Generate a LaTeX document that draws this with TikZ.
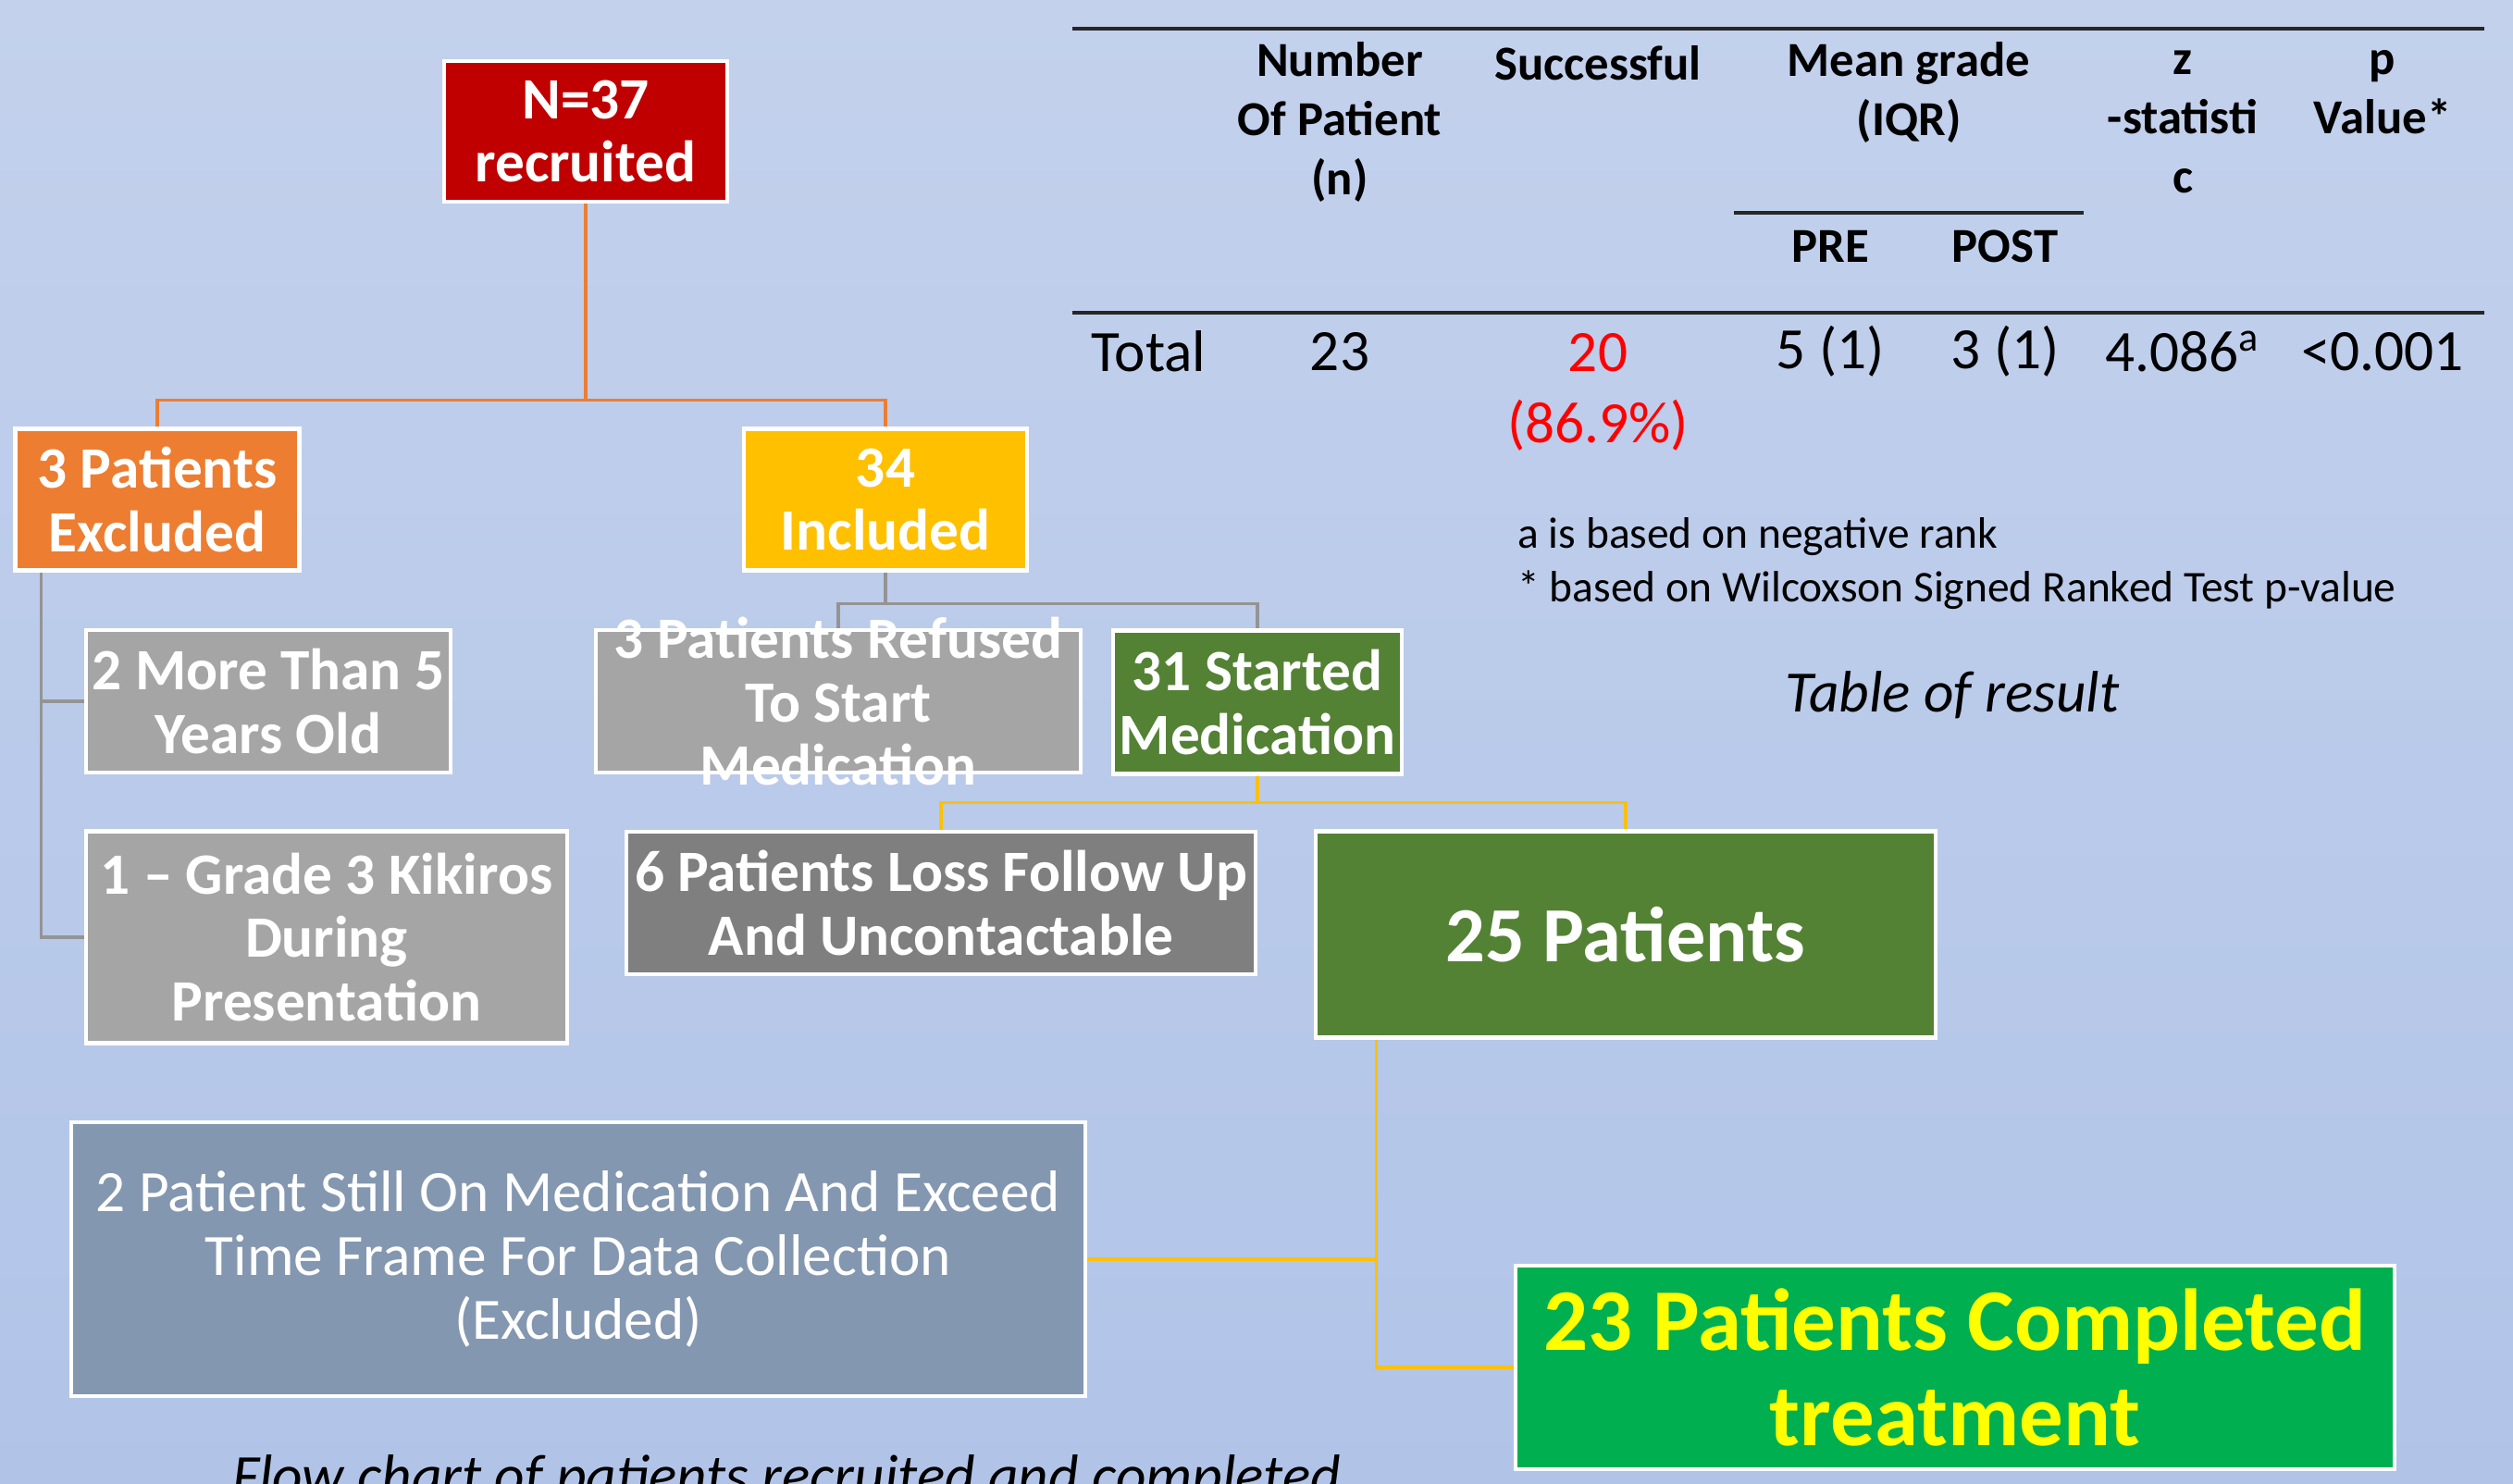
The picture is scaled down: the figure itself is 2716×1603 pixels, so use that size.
\documentclass[tikz,border=0pt]{standalone}
\usepackage{fontspec}
\setmainfont{Carlito}
\usetikzlibrary{positioning,calc}
\definecolor{bgtop}{RGB}{195,209,236}
\definecolor{bgbot}{RGB}{177,196,232}
\definecolor{recred}{RGB}{192,0,0}
\definecolor{excorange}{RGB}{237,125,49}
\definecolor{incyellow}{RGB}{255,192,0}
\definecolor{boxgrey}{RGB}{165,165,165}
\definecolor{darkgrey}{RGB}{127,127,127}
\definecolor{medgreen}{RGB}{84,130,53}
\definecolor{slateblue}{RGB}{132,151,176}
\definecolor{donegreen}{RGB}{0,176,80}
\definecolor{doneyellow}{RGB}{255,255,0}
\definecolor{pvalred}{RGB}{255,0,0}
\tikzstyle{flow box}=[
        draw = white,
        line width = 1.2pt,
        inner sep = 2pt,
        align = center,
        text = white,
        font = \bfseries\fontsize{18}{19.6}\selectfont
    ]
\tikzstyle{orange line}=[draw = excorange, line width = 0.9pt]
\tikzstyle{grey line}=[draw = boxgrey!90!black, line width = 0.9pt]
\tikzstyle{yellow line}=[draw = incyellow, line width = 0.9pt]
\tikzstyle{table rule}=[draw = black!85, line width = 1pt]
\tikzstyle{head}=[align = center, font = \bfseries\fontsize{15}{18.2}\selectfont]
\tikzstyle{cell}=[align = center, font = \fontsize{18}{22}\selectfont]

\begin{document}
\begin{tikzpicture}[x=0.01cm, y=-0.01cm]
        \useasboundingbox (0,0) rectangle (2716,1603);
        \clip (0,0) rectangle (2716,1603);
        \shade[top color = bgtop, bottom color = bgbot] (0,0) rectangle (2716,1603);

        % flow chart
        \node[flow box, fill = recred, minimum width = 3.06cm, minimum height = 1.52cm] (recruited) at (633,142) {N=37\\recruited};
        \node[flow box, fill = excorange, minimum width = 3.07cm, minimum height = 1.53cm] (excluded) at (170,540) {3 Patients\\Excluded};
        \node[flow box, fill = incyellow, minimum width = 3.06cm, minimum height = 1.53cm] (included) at (957,540) {34\\Included};
        \node[flow box, fill = boxgrey, minimum width = 3.93cm, minimum height = 1.54cm] (more5) at (290,758) {2 More Than 5\\Years Old};
        \node[flow box, fill = boxgrey, minimum width = 5.19cm, minimum height = 2.29cm] (grade3) at (353,1013) {1 -- Grade 3 Kikiros\\During\\Presentation};
        \node[flow box, fill = boxgrey, minimum width = 5.23cm, minimum height = 1.54cm] (refused) at (906,758) {};
        \node[flow box, draw = none] (refusedtext) at (refused.center) {3 Patients Refused\\To Start\\Medication};
        \node[flow box, fill = medgreen, minimum width = 3.07cm, minimum height = 1.55cm] (started) at (1359,759) {31 Started\\Medication};
        \node[flow box, fill = darkgrey, minimum width = 6.79cm, minimum height = 1.54cm] (lossfu) at (1017,976) {6 Patients Loss Follow Up\\And Uncontactable};
        \node[flow box, fill = medgreen, minimum width = 6.70cm, minimum height = 2.23cm, font = \bfseries\fontsize{24}{28}\selectfont] (p25) at (1757,1010) {25 Patients};
        \node[flow box, fill = slateblue, minimum width = 10.95cm, minimum height = 2.96cm, font = \fontsize{18}{19.6}\selectfont] (stillmed) at (625,1361) {2 Patient Still On Medication And Exceed\\Time Frame For Data Collection\\(Excluded)};
        \node[flow box, fill = donegreen, text = doneyellow, minimum width = 9.50cm, minimum height = 2.20cm, font = \bfseries\fontsize{27}{29.3}\selectfont] (completed) at (2113,1478) {23 Patients Completed\\treatment};

        \draw[orange line] (recruited.south) -- ++(0,212) -| (excluded.north);
        \draw[orange line] (recruited.south) -- ++(0,212) -| (included.north);
        \coordinate (exc trunk) at ($(excluded.south west)+(30,0)$);
        \draw[grey line] (exc trunk) |- (more5.west);
        \draw[grey line] (exc trunk) |- (grade3.west);
        \draw[grey line] (included.south) -- ++(0,34) -| (refused.north);
        \draw[grey line] (included.south) -- ++(0,34) -| (started.north);
        \draw[yellow line] (started.south) -- ++(0,29) -| (lossfu.north);
        \draw[yellow line] (started.south) -- ++(0,29) -| (p25.north);
        \coordinate (p25 trunk) at ($(p25.south west)+(68,0)$);
        \draw[yellow line] (p25 trunk) |- (stillmed.east);
        \draw[yellow line] (p25 trunk) |- (completed.west);

        \node[anchor = base, font = \itshape\fontsize{18}{20}\selectfont] (flowcap) at (850,1616) {Flow chart of patients recruited and completed};

        % table of result
        \draw[table rule] (1159,31) -- (2685,31);
        \draw[table rule] (1874,230) -- (2252,230);
        \draw[table rule] (1159,338) -- (2685,338);

        \node[head] (h number) at (1448,132) {Number\\Of Patient\\(n)};
        \node[head] (h success) at (1727,68) {Successful};
        \node[head] (h mean) at (2063,100) {Mean grade\\(IQR)};
        \node[head] (h z) at (2359,132) {z\\-statisti\\c};
        \node[head] (h p) at (2575,100) {p\\Value*};
        \node[head] (h pre) at (1978,266) {PRE};
        \node[head] (h post) at (2167,266) {POST};

        \node[cell, anchor = west] (c total) at (1167,380) {Total};
        \node[cell] (c n) at (1448,380) {23};
        \node[cell, text = pvalred] (c success) at (1727,424) {20\\(86.9\%)};
        \node[cell] (c pre) at (1978,380) {5 (1)};
        \node[cell] (c post) at (2167,380) {3 (1)};
        \node[cell] (c z) at (2359,380) {4.086\textsuperscript{a}};
        \node[cell] (c p) at (2575,380) {<0.001};

        \node[anchor = west, font = \fontsize{13.5}{16}\selectfont] (note a) at (1628,580) {a is based on negative rank};
        \node[anchor = west, font = \fontsize{13.5}{16}\selectfont] (note b) at (1628,638) {* based on Wilcoxson Signed Ranked Test p-value};
        \node[font = \itshape\fontsize{18}{20}\selectfont] (tabcap) at (2110,751) {Table of result};

    \end{tikzpicture}
\end{document}
